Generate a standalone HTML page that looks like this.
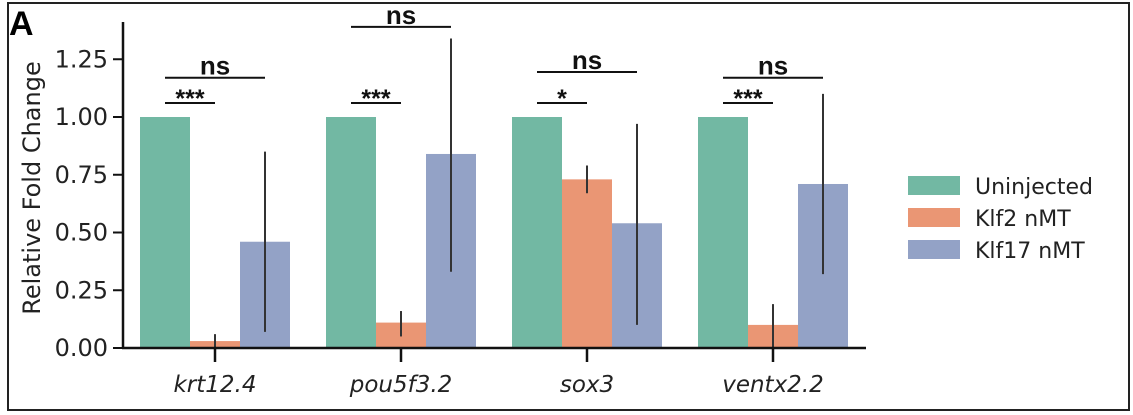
<!DOCTYPE html>
<html><head><meta charset="utf-8"><style>
html,body{margin:0;padding:0;background:#fff;width:1133px;height:415px;overflow:hidden}
svg text{font-family:"DejaVu Sans","Liberation Sans",sans-serif}
</style></head><body>
<svg id="chart" width="1133" height="415" xmlns="http://www.w3.org/2000/svg">
<rect x="8" y="3" width="1121" height="407" fill="none" stroke="#222" stroke-width="2"/>
<text x="9" y="35" font-size="34" font-weight="bold" fill="#000" style="font-family:'Liberation Sans',sans-serif">A</text>
<g id="plot"></g>
</svg>
<script>
const categories=["krt12.4","pou5f3.2","sox3","ventx2.2"];
const seriesNames=["Uninjected","Klf2 nMT","Klf17 nMT"];
const uninjected=[1.0,1.0,1.0,1.0];
const klf2=[0.03,0.11,0.73,0.10];
const klf17=[0.46,0.84,0.54,0.71];
const klf2Lo=[0.0,0.05,0.67,0.0];
const klf2Hi=[0.06,0.16,0.79,0.19];
const klf17Lo=[0.07,0.33,0.10,0.32];
const klf17Hi=[0.85,1.34,0.97,1.10];
const yTicks=[0,0.25,0.5,0.75,1.0,1.25];
const sigInner=["***","***","*","***"];
const sigOuter=["ns","ns","ns","ns"];
const outerLevel=[1.17,1.39,1.195,1.17];
const colors=["#72b8a3","#ea9674","#93a2c6"];
const ns="http://www.w3.org/2000/svg";
const g=document.getElementById('plot');
const y=v=>348-v*231;
const xc=i=>215+i*186;
const bw=50;
function el(t,a,p){const e=document.createElementNS(ns,t);for(const k in a)e.setAttribute(k,a[k]);(p||g).appendChild(e);return e;}
const vals=[uninjected,klf2,klf17];
for(let s=0;s<3;s++)for(let i=0;i<categories.length;i++){
 const x0=xc(i)-75+s*bw;
 const r=el('rect',{x:x0,y:y(vals[s][i]),width:bw,height:y(0)-y(vals[s][i]),fill:colors[s]});
 
 
}
const lo=[null,klf2Lo,klf17Lo],hi=[null,klf2Hi,klf17Hi];
for(let s=1;s<3;s++)for(let i=0;i<categories.length;i++){
 const x=xc(i)-50+s*bw;
 const l=el('line',{x1:x,x2:x,y1:y(lo[s][i]),y2:y(hi[s][i]),stroke:'#333','stroke-width':2});
 
 
}
const ya=el('line',{x1:123,x2:123,y1:22,y2:349,stroke:'#111','stroke-width':2.5});


const xa=el('line',{x1:122,x2:866,y1:348,y2:348,stroke:'#111','stroke-width':2.5});


yTicks.forEach(v=>{
 const t=el('line',{x1:113,x2:123,y1:y(v),y2:y(v),stroke:'#111','stroke-width':2});
 
 
 const tx=el('text',{x:108,y:y(v)+8,'font-size':24,'text-anchor':'end',fill:'#222'});
 tx.textContent=v.toFixed(2);
 
 
});
categories.forEach((c,i)=>{
 const t=el('line',{x1:xc(i),x2:xc(i),y1:348,y2:362,stroke:'#111','stroke-width':2.5});
 
 
 const tx=el('text',{x:xc(i),y:392,'font-size':23,'text-anchor':'middle','font-style':'italic',fill:'#222'});
 tx.textContent=c;
 
 
 const a=el('line',{x1:xc(i)-50,x2:xc(i)+0,y1:103,y2:103,stroke:'#111','stroke-width':2});
 
 
 const at=el('text',{x:xc(i)-25,y:107,'font-size':25,'font-weight':'bold','text-anchor':'middle',fill:'#111',style:"font-family:'Liberation Sans',sans-serif"});
 at.textContent=sigInner[i];
 
 
 const b=el('line',{x1:xc(i)-50,x2:xc(i)+50,y1:y(outerLevel[i]),y2:y(outerLevel[i]),stroke:'#111','stroke-width':2});
 
 
 const bt=el('text',{x:xc(i),y:y(outerLevel[i])-3,'font-size':26,'font-weight':'bold','text-anchor':'middle',fill:'#111',style:"font-family:'Liberation Sans',sans-serif"});
 bt.textContent=sigOuter[i];
 
 
});
const yl=el('text',{x:40,y:188,'font-size':24,'text-anchor':'middle',fill:'#222',transform:'rotate(-90 40 188)'});
yl.textContent='Relative Fold Change';


seriesNames.forEach((n,s)=>{
 const r=el('rect',{x:908,y:176+s*32,width:52,height:19,fill:colors[s]});
 
 
 const t=el('text',{x:975,y:194+s*32,'font-size':22,fill:'#222'});
 t.textContent=n;
 
 
});
</script>
</body></html>
